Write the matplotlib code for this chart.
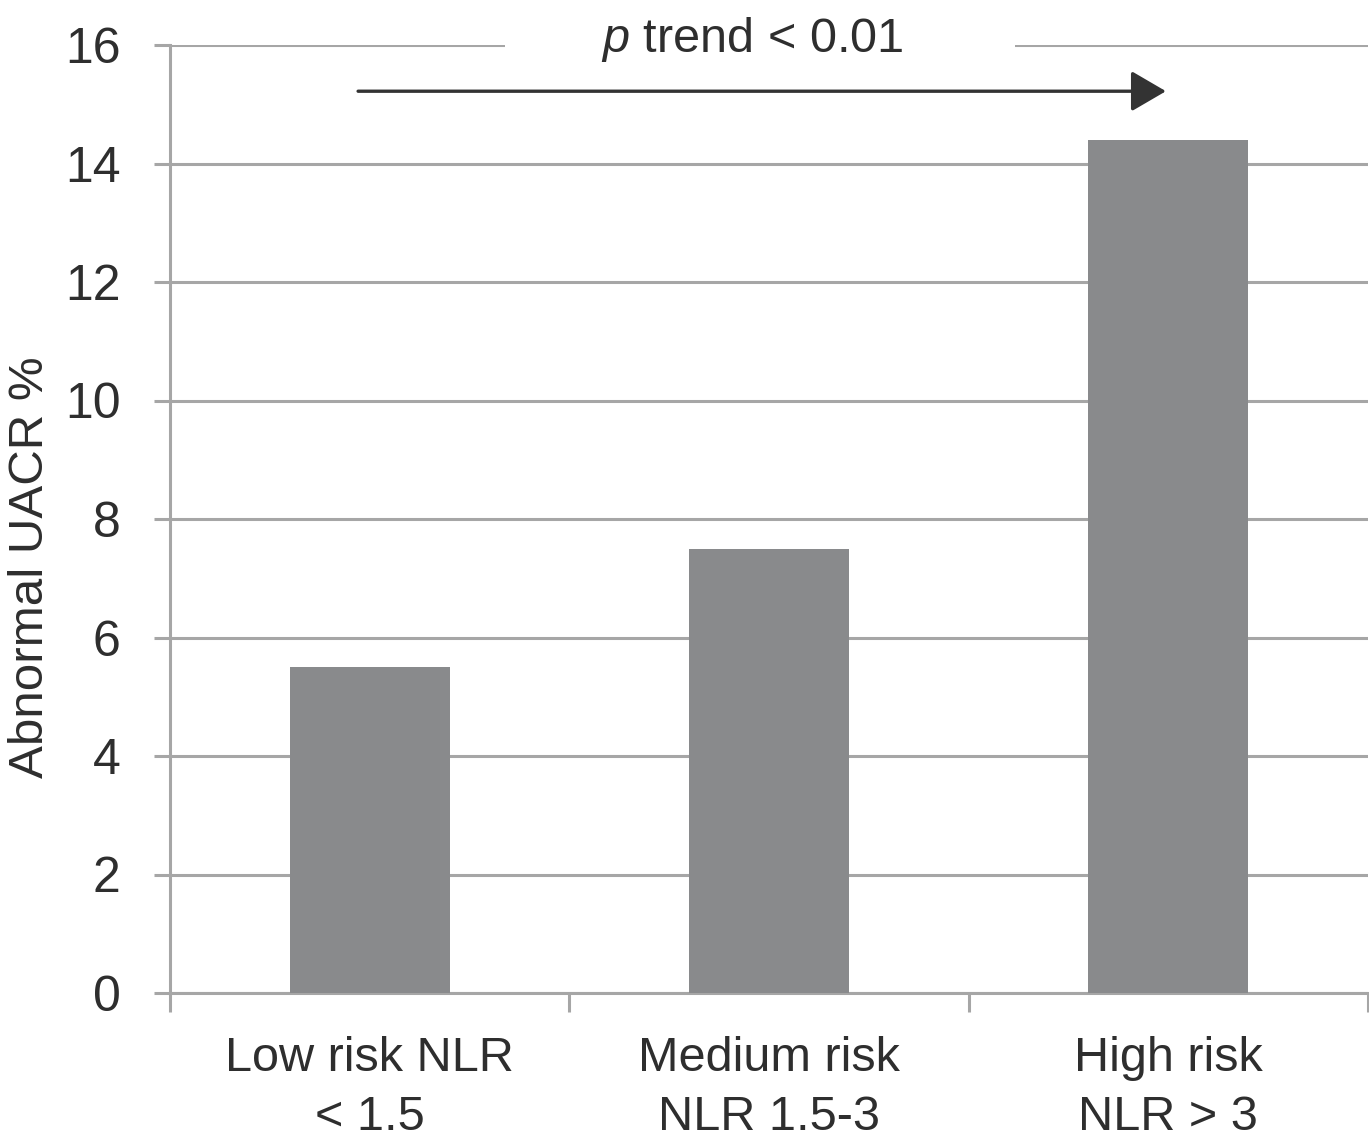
import matplotlib as mpl
import numpy as np
from matplotlib import pyplot as plt
from matplotlib.patches import Rectangle

mpl.use('Agg')

plt.rcParams['font.family'] = ['Liberation Sans', 'DejaVu Sans']
plt.rcParams['mathtext.fontset'] = 'custom'
plt.rcParams['mathtext.it'] = 'Liberation Sans:italic'
plt.rcParams['mathtext.rm'] = 'Liberation Sans'

categories = ['Low risk NLR\n< 1.5', 'Medium risk\nNLR 1.5-3', 'High risk\nNLR > 3']
values = [5.5, 7.5, 14.4]
y_ticks = [0, 2, 4, 6, 8, 10, 12, 14, 16]
ylabel = 'Abnormal UACR %'
trend_text = r'$\it{p}$ trend < 0.01'

text_col = '#2e2e2e'
grid_col = '#a6a6a6'
bar_col = '#898a8c'

fig = plt.figure(figsize=(13.69, 11.45), dpi=100, facecolor='white')
ax = fig.add_axes([170 / 1369, 1 - 993 / 1145, 1198 / 1369, 948 / 1145])

x = np.arange(len(categories))
ax.bar(x, values, width=0.4, color=bar_col, zorder=3)

ax.set_xlim(-0.5, 2.5)
ax.set_ylim(0, 16)
ax.set_yticks(y_ticks)
ax.set_yticklabels([str(t) for t in y_ticks])
ax.set_xticks(x)
ax.set_xticklabels(categories, linespacing=1.4)
ax.set_xticks(np.arange(len(categories) + 1) - 0.5, minor=True)

for s in ['top', 'right']:
    ax.spines[s].set_visible(False)
for s in ['left', 'bottom']:
    ax.spines[s].set_color(grid_col)
    ax.spines[s].set_linewidth(2.2)

ax.grid(True, axis='y', color=grid_col, linewidth=2.2, zorder=0)
ax.set_axisbelow(True)

ax.tick_params(axis='y', which='major', length=11.5, width=2.2, color=grid_col,
               labelsize=36, labelcolor=text_col, pad=24)
ax.tick_params(axis='x', which='major', length=0, labelsize=35, labelcolor=text_col, pad=31)
ax.tick_params(axis='x', which='minor', length=13.5, width=2.2, color=grid_col)

ax.set_ylabel(ylabel, fontsize=35.5, color=text_col, labelpad=9, y=0.449)

# break the top gridline behind the trend label
ax.add_patch(Rectangle((0.339, 15.7), 1.277, 0.6, facecolor='white', edgecolor='none',
                       zorder=2, clip_on=False))
ax.text(0.957, 16.1, trend_text, ha='center', va='center', fontsize=35, color=text_col, zorder=4)

ax.annotate('', xy=(1.994, 15.22), xytext=(-0.029, 15.22),
            arrowprops=dict(arrowstyle='-|>,head_length=2.16,head_width=1.26',
                            mutation_scale=10, color='#333333', lw=2.4,
                            shrinkA=0, shrinkB=0), zorder=4)

fig.savefig('out.png', dpi=100, facecolor='white')
